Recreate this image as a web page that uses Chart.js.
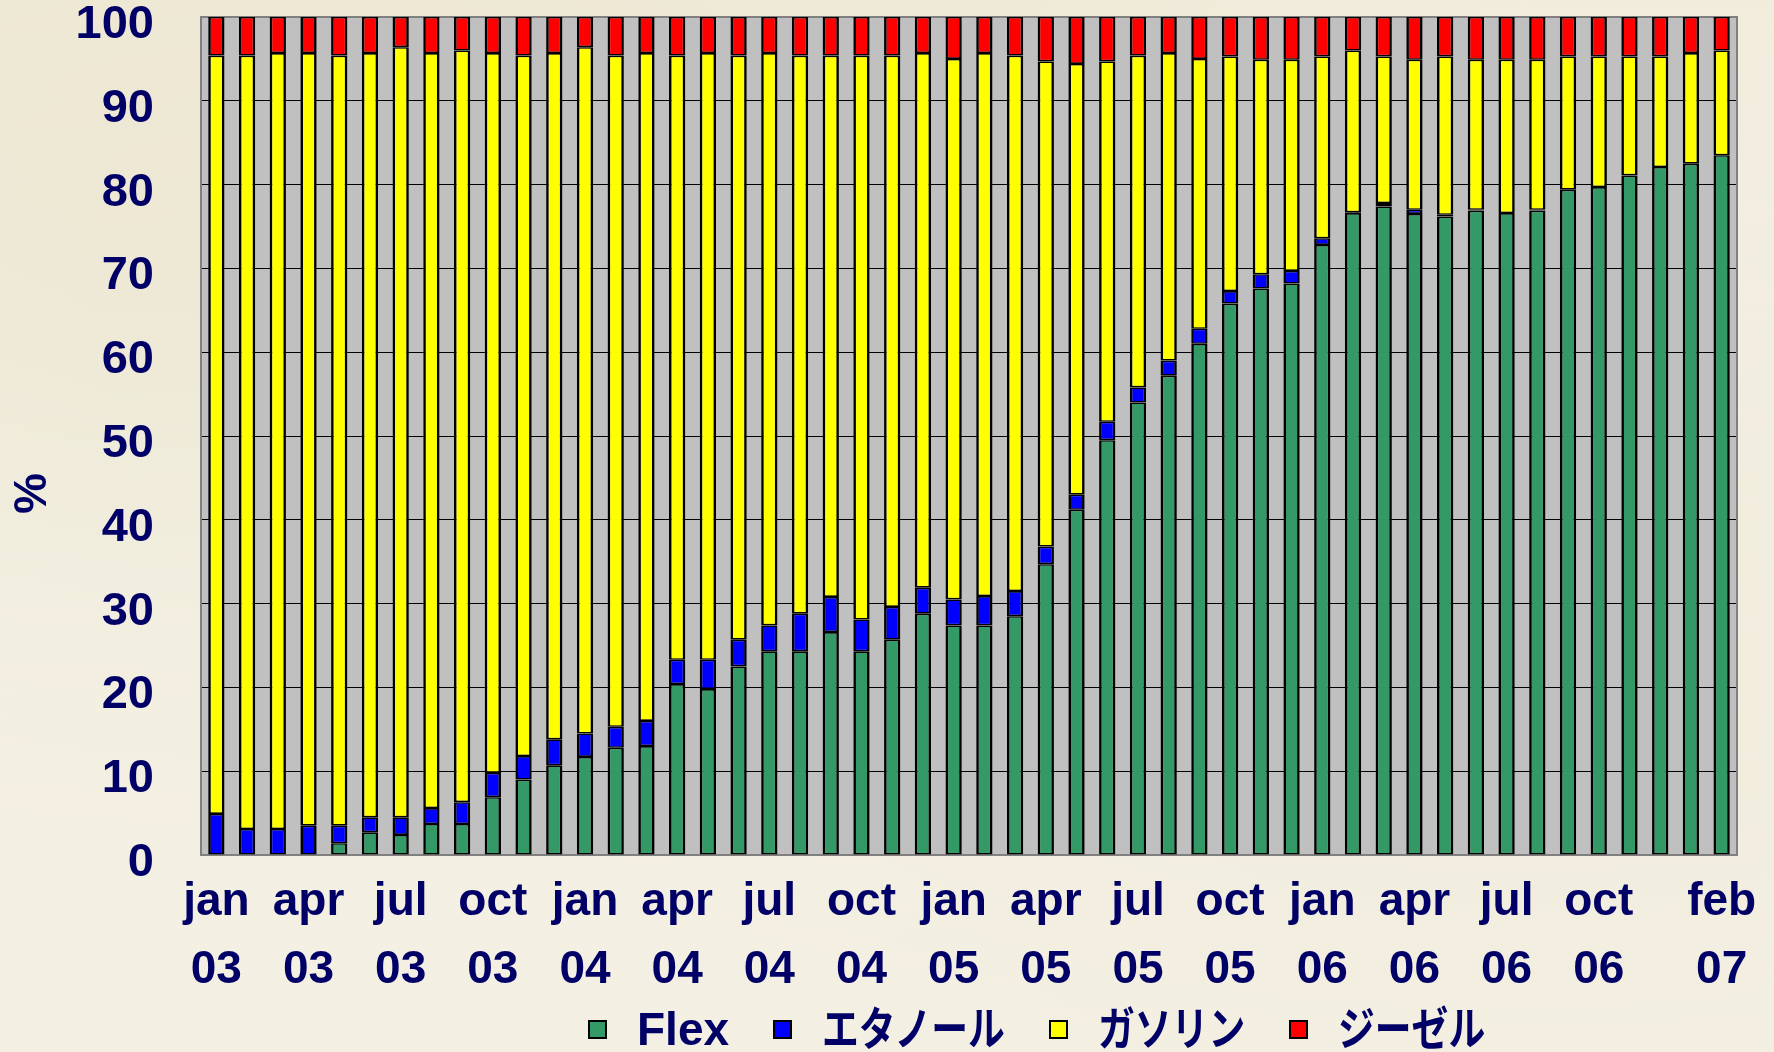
<!DOCTYPE html>
<html lang="ja">
<head>
<meta charset="utf-8">
<title>Flex / エタノール / ガソリン / ジーゼル</title>
<script src="https://cdn.jsdelivr.net/npm/chart.js@4.4.1/dist/chart.umd.min.js"></script>
<style>
  html, body { margin: 0; padding: 0; width: 1774px; height: 1052px; overflow: hidden; }
  body {
    background:
      radial-gradient(ellipse at 15% 20%, rgba(232, 226, 200, 0.55), rgba(232, 226, 200, 0) 60%),
      radial-gradient(ellipse at 85% 60%, rgba(236, 230, 208, 0.5), rgba(236, 230, 208, 0) 55%),
      linear-gradient(180deg, #f1ecdc 0%, #f5f2e7 55%, #f3efe2 100%);
    font-family: 'Liberation Sans', Arial, 'Noto Sans CJK JP', sans-serif;
  }
  #wrap { position: relative; width: 1774px; height: 1052px; }
  #legend {
    position: absolute; left: 588px; top: 1004px; height: 50px;
    display: flex; align-items: center;
    font-family: 'Liberation Sans', Arial, 'Noto Sans CJK JP', sans-serif;
    font-weight: bold; font-size: 46px; color: #000066;
  }
  .item { display: flex; align-items: center; margin-right: 44px; }
  .swatch { width: 15px; height: 15px; border: 2px solid #000; margin-right: 30px; flex: none; }
  .label { display: inline-block; white-space: nowrap; line-height: 50px; overflow: visible; }
  .label span { display: inline-block; transform-origin: 0 50%; }
</style>
</head>
<body>
<div id="wrap">
  <canvas id="chart"></canvas>
  <div id="legend"></div>
</div>
<script>
// Monthly categories, January 2003 to February 2007
const months = [
  'jan 03','feb 03','mar 03','apr 03','may 03','jun 03','jul 03','aug 03','sep 03','oct 03','nov 03','dec 03',
  'jan 04','feb 04','mar 04','apr 04','may 04','jun 04','jul 04','aug 04','sep 04','oct 04','nov 04','dec 04',
  'jan 05','feb 05','mar 05','apr 05','may 05','jun 05','jul 05','aug 05','sep 05','oct 05','nov 05','dec 05',
  'jan 06','feb 06','mar 06','apr 06','may 06','jun 06','jul 06','aug 06','sep 06','oct 06','nov 06','dec 06',
  'jan 07','feb 07'
];

// Months that carry an axis label
const tickMonths = [
  'jan 03','apr 03','jul 03','oct 03','jan 04','apr 04','jul 04','oct 04',
  'jan 05','apr 05','jul 05','oct 05','jan 06','apr 06','jul 06','oct 06','feb 07'
];

// Share of each fuel type, %
const flex = [
  0, 0, 0, 0, 1.4, 2.7, 2.4, 3.7, 3.7, 6.9, 9.0, 10.7,
  11.7, 12.8, 13.0, 20.4, 19.8, 22.5, 24.3, 24.3, 26.6, 24.3, 25.7, 28.8,
  27.4, 27.4, 28.5, 34.7, 41.2, 49.5, 54.0, 57.2, 61.0, 65.8, 67.6, 68.2,
  72.8, 76.6, 77.4, 76.5, 76.2, 76.9, 76.6, 76.9, 79.4, 79.7, 81.1, 82.1,
  82.5, 83.5
];
const ethanol = [
  4.9, 3.1, 3.1, 3.5, 2.1, 1.8, 2.1, 1.9, 2.6, 2.9, 2.8, 3.1,
  2.8, 2.5, 3.0, 2.9, 3.5, 3.2, 3.1, 4.5, 4.2, 3.8, 3.9, 3.1,
  3.1, 3.5, 3.0, 2.1, 1.8, 2.2, 1.8, 1.8, 1.8, 1.5, 1.7, 1.5,
  0.8, 0.1, 0.4, 0.5, 0.2, 0.1, 0, 0.1, 0, 0, 0, 0,
  0, 0
];
const gasoline = [
  90.5, 92.3, 92.6, 92.2, 91.9, 91.2, 91.9, 90.1, 89.7, 85.9, 83.6, 81.9,
  81.9, 80.1, 79.7, 72.1, 72.4, 69.7, 68.3, 66.6, 64.6, 67.3, 65.8, 63.8,
  64.5, 64.8, 63.9, 57.9, 51.4, 43.0, 39.6, 36.7, 32.2, 28.0, 25.6, 25.2,
  21.7, 19.3, 17.5, 17.9, 18.9, 17.9, 18.3, 17.9, 15.9, 15.6, 14.2, 13.2,
  13.2, 12.5
];
const diesel = [
  4.6, 4.6, 4.3, 4.3, 4.6, 4.3, 3.6, 4.3, 4.0, 4.3, 4.6, 4.3,
  3.6, 4.6, 4.3, 4.6, 4.3, 4.6, 4.3, 4.6, 4.6, 4.6, 4.6, 4.3,
  5.0, 4.3, 4.6, 5.3, 5.6, 5.3, 4.6, 4.3, 5.0, 4.7, 5.1, 5.1,
  4.7, 4.0, 4.7, 5.1, 4.7, 5.1, 5.1, 5.1, 4.7, 4.7, 4.7, 4.7,
  4.3, 4.0
];

const seriesNames = ['Flex', 'エタノール', 'ガソリン', 'ジーゼル'];
const seriesColors = ['#339966', '#0000ff', '#ffff00', '#ff0000'];
const seriesValues = [flex, ethanol, gasoline, diesel];

const TEXT_COLOR = '#000066';
const FONT_FAMILY = "'Liberation Sans', Arial, 'Noto Sans CJK JP', sans-serif";

// Gray plot background and its frame
const plotFrame = {
  id: 'plotFrame',
  beforeDraw(chart) {
    const { ctx, chartArea: a } = chart;
    ctx.save();
    ctx.fillStyle = '#c0c0c0';
    ctx.fillRect(a.left, a.top, a.width, a.height);
    ctx.restore();
  },
  beforeDatasetsDraw(chart) {
    const { ctx, chartArea: a } = chart;
    ctx.save();
    ctx.strokeStyle = '#808080';
    ctx.lineWidth = 2;
    ctx.strokeRect(a.left, a.top, a.width, a.height);
    ctx.restore();
  }
};

// Keep tick-label overhang from shrinking the plot area
function clearScalePadding(scale) {
  scale.paddingTop = 0;
  scale.paddingBottom = 0;
  scale.paddingLeft = 0;
  scale.paddingRight = 0;
}

const canvas = document.getElementById('chart');
canvas.width = 1774;
canvas.height = 1052;

const chart = new Chart(canvas, {
  type: 'bar',
  data: {
    labels: months,
    datasets: seriesNames.map((name, k) => ({
      label: name,
      data: seriesValues[k],
      backgroundColor: seriesColors[k],
      borderColor: '#000000',
      borderWidth: { top: 1.6, bottom: 1.6, left: 2.6, right: 2.6 },
      borderSkipped: false,
      categoryPercentage: 1.0,
      barPercentage: 0.53
    }))
  },
  options: {
    responsive: false,
    animation: false,
    events: [],
    layout: { autoPadding: false, padding: { top: 17, right: 37, bottom: 0, left: 0 } },
    plugins: {
      legend: { display: false },
      tooltip: { enabled: false }
    },
    scales: {
      x: {
        stacked: true,
        offset: true,
        grid: { display: false, drawTicks: false },
        border: { display: false },
        ticks: {
          autoSkip: false,
          maxRotation: 0,
          minRotation: 0,
          padding: 13,
          color: TEXT_COLOR,
          font: { family: FONT_FAMILY, size: 46, weight: 'bold', lineHeight: 1.48 },
          callback(value, index) {
            const m = months[index];
            return tickMonths.includes(m) ? m.split(' ') : '';
          }
        },
        afterFit(scale) {
          scale.height = 197;
          clearScalePadding(scale);
        }
      },
      y: {
        stacked: true,
        min: 0,
        max: 100,
        grid: { color: '#000000', lineWidth: 1, drawTicks: false },
        border: { display: false },
        ticks: {
          stepSize: 10,
          padding: 47,
          labelOffset: 8,
          color: TEXT_COLOR,
          font: { family: FONT_FAMILY, size: 47, weight: 'bold', lineHeight: 0.7 }
        },
        title: {
          display: true,
          text: '%         ',
          color: TEXT_COLOR,
          font: { family: FONT_FAMILY, size: 46, weight: 'bold' },
          padding: { top: 6, bottom: 0 }
        },
        afterFit(scale) {
          scale.width = 201;
          clearScalePadding(scale);
        }
      }
    }
  },
  plugins: [plotFrame]
});

// Legend row built from the datasets
const legendEl = document.getElementById('legend');
chart.data.datasets.forEach(ds => {
  const item = document.createElement('div');
  item.className = 'item';
  const sw = document.createElement('div');
  sw.className = 'swatch';
  sw.style.background = ds.backgroundColor;
  const label = document.createElement('div');
  label.className = 'label';
  const inner = document.createElement('span');
  inner.textContent = ds.label;
  label.appendChild(inner);
  item.appendChild(sw);
  item.appendChild(label);
  legendEl.appendChild(item);
  if (/[^\x00-\x7f]/.test(ds.label)) {
    const w = inner.getBoundingClientRect().width;
    inner.style.transform = 'scaleX(0.8)';
    label.style.width = (w * 0.8) + 'px';
  }
});
</script>
</body>
</html>
